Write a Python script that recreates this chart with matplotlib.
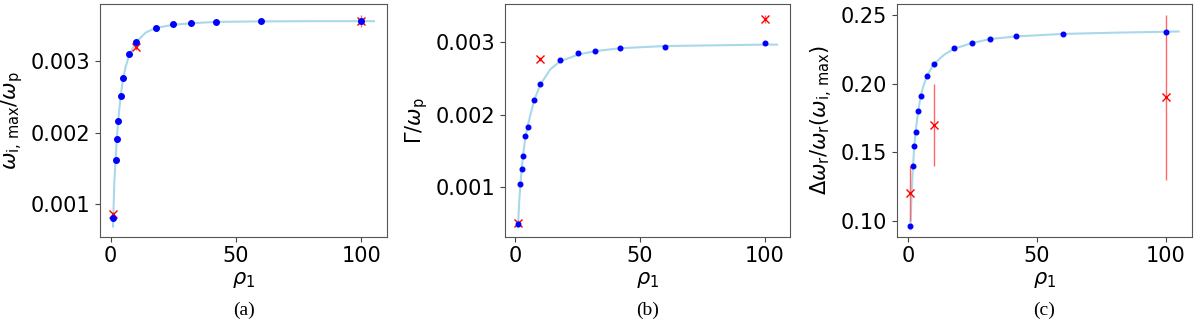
import matplotlib
matplotlib.use("Agg")
import matplotlib.pyplot as plt

# ---- data ----
rho = [1, 2, 2.5, 3, 4, 5, 7.5, 10, 18, 25, 32, 42, 60, 100]

wi_max = [0.00081, 0.00162, 0.00192, 0.00216, 0.00252, 0.00276, 0.00310,
          0.00327, 0.003465, 0.003516, 0.003535, 0.003549, 0.003558, 0.003563]
gamma = [0.00050, 0.00105, 0.00125, 0.00143, 0.00171, 0.00184, 0.00220,
         0.00242, 0.00276, 0.00285, 0.00288, 0.00292, 0.00293, 0.00299]
dwr = [0.0964, 0.1399, 0.1545, 0.1647, 0.1802, 0.1908, 0.2058, 0.2143,
       0.2262, 0.2296, 0.2325, 0.2344, 0.2364, 0.2378]

# fitted curves
rho_fit = [1, 1.5, 2, 2.5, 3, 4, 5, 6, 7.5, 10, 14, 18, 25, 32, 42, 60, 80, 100, 105]
wi_fit = [0.00069, 0.00130, 0.00162, 0.00191, 0.00215, 0.00251, 0.00275, 0.00292,
          0.00309, 0.00326, 0.00340, 0.003465, 0.00351, 0.00353, 0.00355,
          0.003557, 0.00356, 0.00356, 0.00356]
gamma_fit = [0.00045, 0.00080, 0.00105, 0.00125, 0.00143, 0.00170, 0.00186, 0.00200,
             0.00220, 0.00242, 0.00263, 0.00274, 0.00283, 0.00288, 0.00292,
             0.00295, 0.00296, 0.00297, 0.00297]
dwr_fit = [0.094, 0.122, 0.140, 0.154, 0.165, 0.180, 0.191, 0.198, 0.206, 0.214,
           0.221, 0.2255, 0.2296, 0.2325, 0.2344, 0.2362, 0.2371, 0.2378, 0.238]

# comparison points (red crosses with error bars)
rho_cmp = [1, 10, 100]
wi_cmp = [0.00086, 0.003195, 0.00356]
wi_err = [0.00004, 0.00004, 0.00008]
gamma_cmp = [0.000515, 0.002774, 0.003323]
gamma_err = [0.00003, 0.00003, 0.00006]
dwr_cmp = [0.12, 0.17, 0.19]
dwr_err = [0.02, 0.03, 0.06]

ylabels = [r"$\omega_{\mathrm{i,\,max}}/\omega_{\mathrm{p}}$",
           r"$\Gamma/\omega_{\mathrm{p}}$",
           r"$\Delta\omega_{\mathrm{r}}/\omega_{\mathrm{r}}(\omega_{\mathrm{i,\,max}})$"]
captions = ["(a)", "(b)", "(c)"]

fig = plt.figure(figsize=(12, 3.25), dpi=100)

rects = [(100, 287), (505, 285), (897, 295)]
bottom = 1 - 237 / 325
height = (237 - 4) / 325

series = [(wi_max, wi_fit, wi_cmp, wi_err, (0.000544, 0.0038), 4.0, [0.001, 0.002, 0.003]),
          (gamma, gamma_fit, gamma_cmp, gamma_err, (0.000316, 0.00353), 3.3, [0.001, 0.002, 0.003]),
          (dwr, dwr_fit, dwr_cmp, dwr_err, (0.0883, 0.258), 3.3, [0.10, 0.15, 0.20, 0.25])]

for i, (ys, yfit, ycmp, yerr, ylim, ms, yt) in enumerate(series):
    l, w = rects[i]
    ax = fig.add_axes([l / 1200, bottom, w / 1200, height])
    ax.plot(rho_fit, yfit, color="#a8d8ea", lw=1.5, zorder=1)
    ax.errorbar(rho_cmp, ycmp, yerr=yerr, fmt="x", color="red", ms=6, mew=1.0,
                ecolor="#ff6666", elinewidth=1.0, zorder=2)
    ax.plot(rho, ys, "o", color="blue", ms=ms, mec="blue", zorder=3)
    ax.set_xlim(-4.2, 110.2)
    ax.set_ylim(*ylim)
    ax.set_xticks([0, 50, 100])
    ax.set_yticks(yt)
    if i == 2:
        ax.set_yticklabels(["0.10", "0.15", "0.20", "0.25"])
    else:
        ax.set_yticklabels(["0.001", "0.002", "0.003"])
    ax.tick_params(labelsize=15, length=3.5, color="#444444")
    ax.tick_params(axis="x", pad=3)
    for s in ax.spines.values():
        s.set_color("#555555")
    ax.set_xlabel(r"$\rho_1$", fontsize=15, labelpad=3)
    ax.set_ylabel(ylabels[i], fontsize=15)
    cx = (l + w / 2) / 1200
    fig.text(cx, 1 - 310 / 325, captions[i], ha="center", va="center",
             fontsize=14, family="Liberation Serif")

fig.savefig("out.png", dpi=100)
